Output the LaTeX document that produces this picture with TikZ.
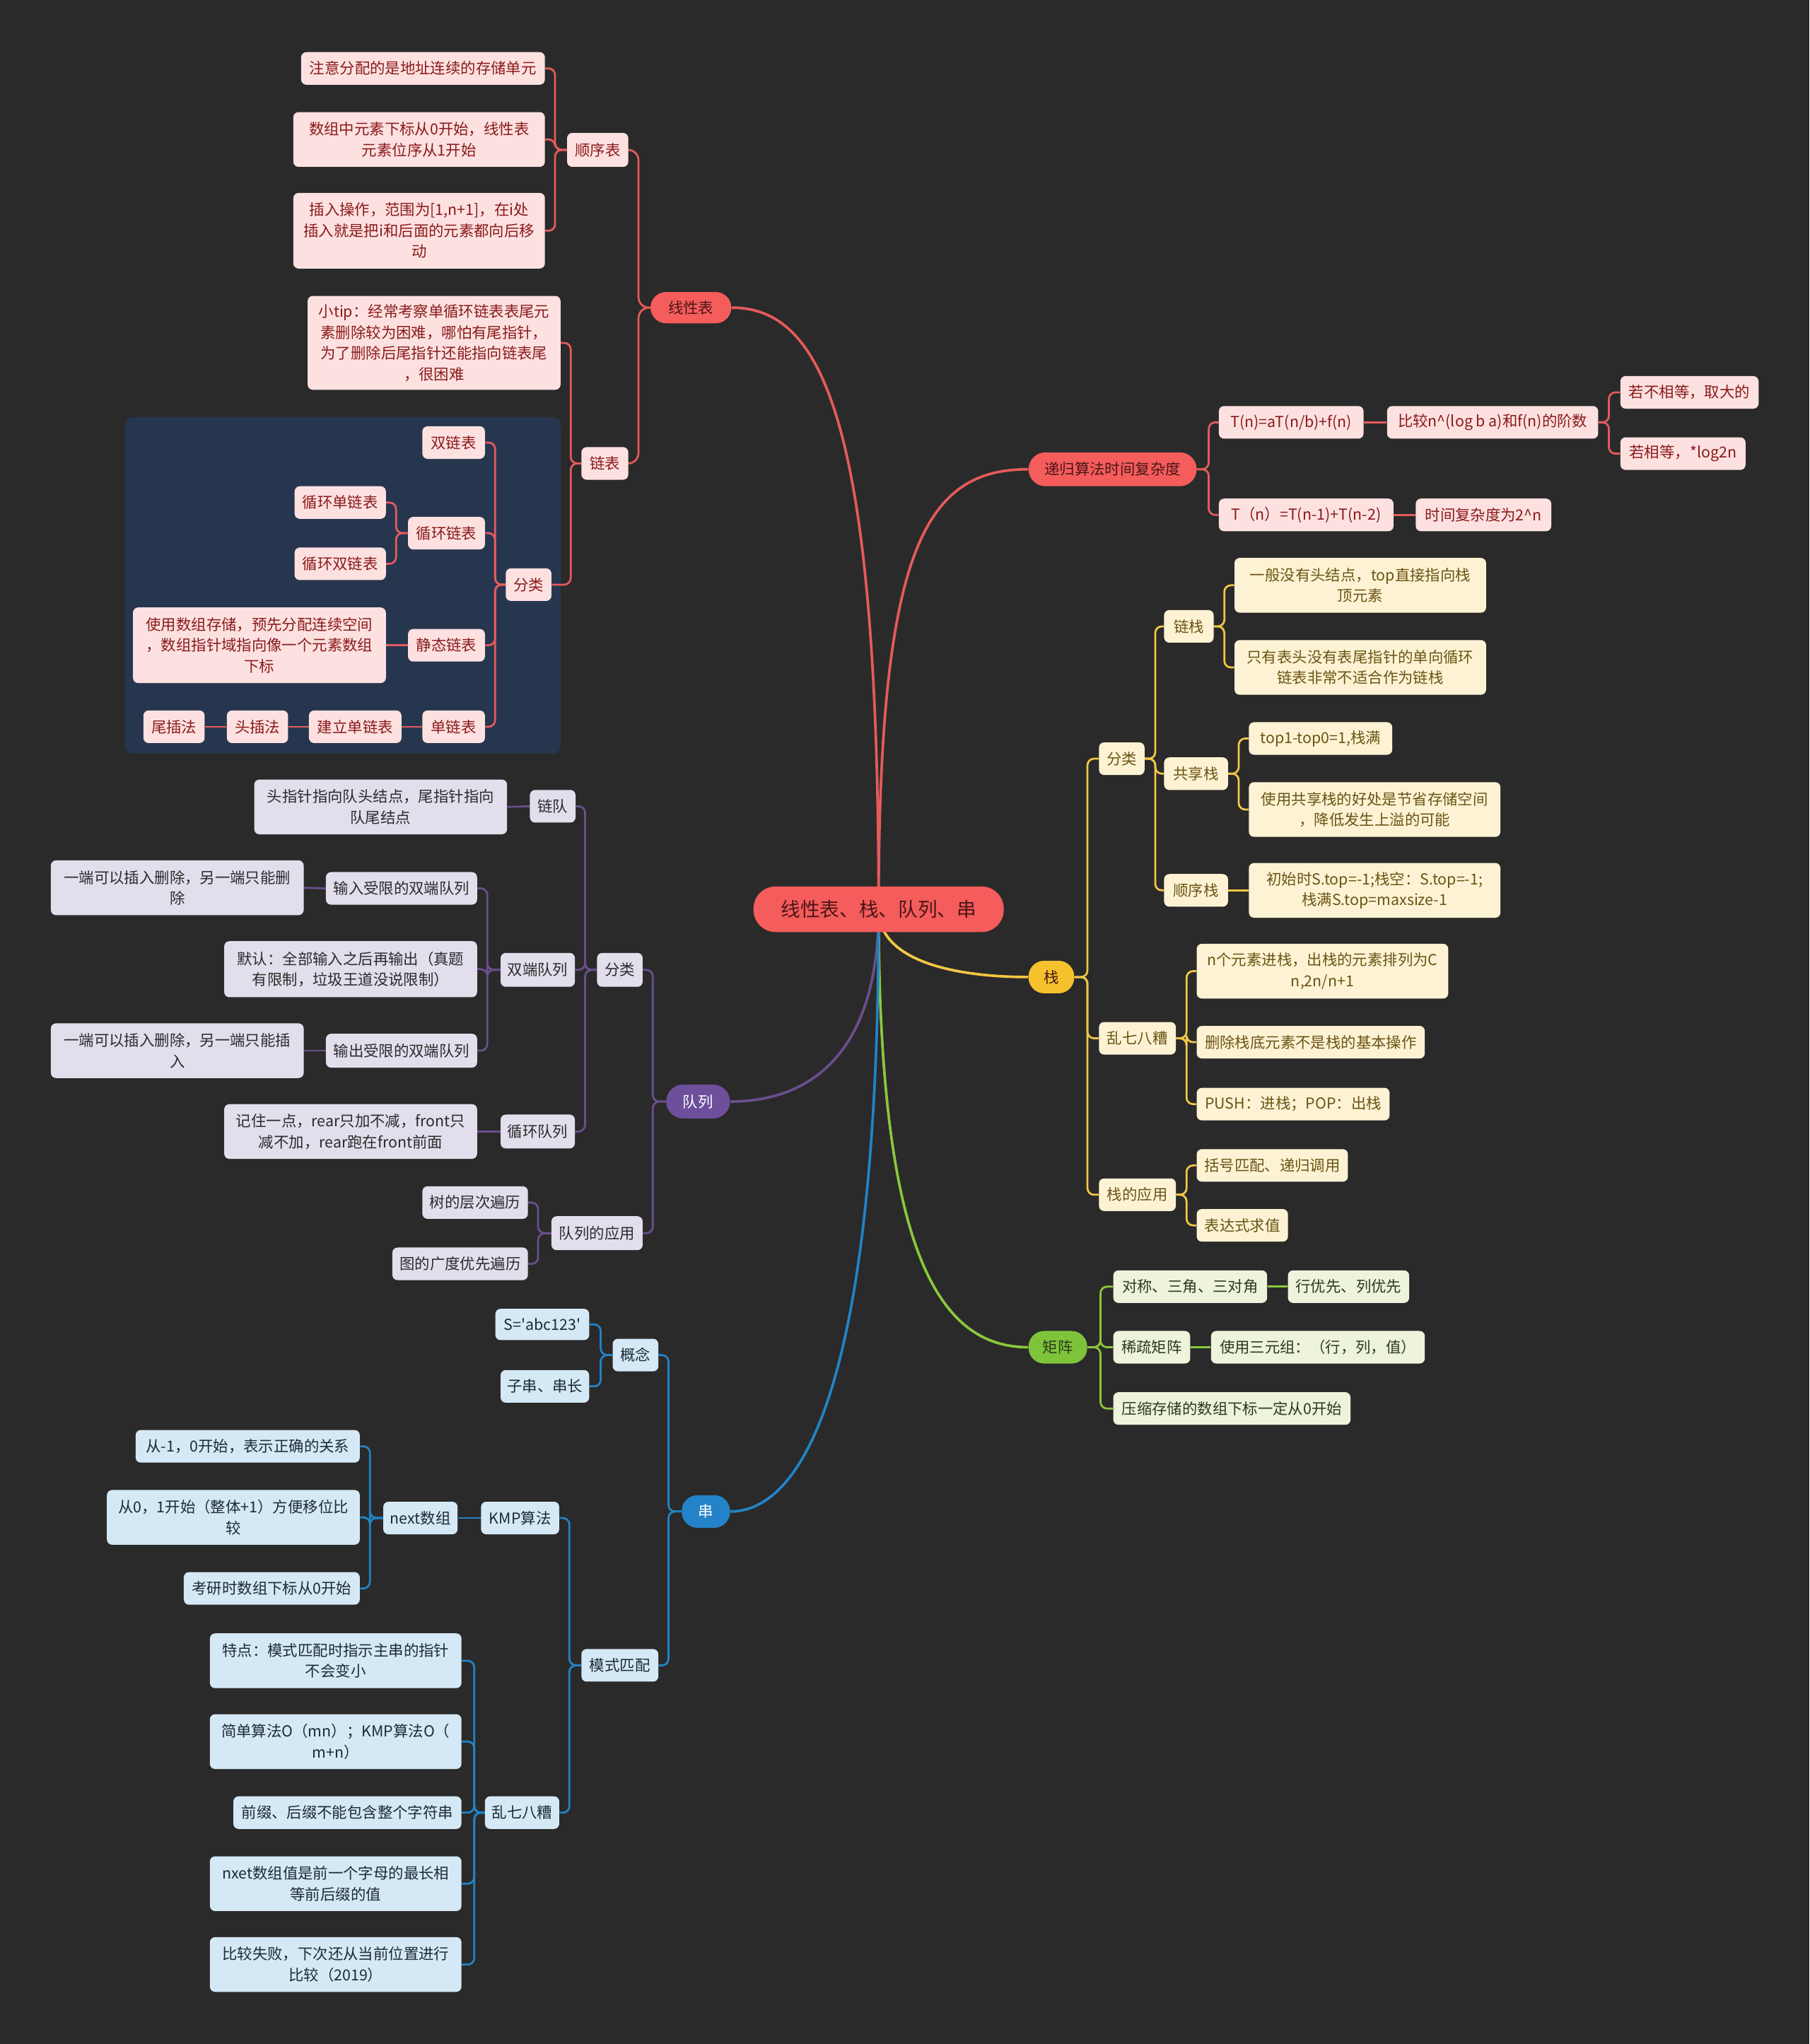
\documentclass[tikz,border=0pt]{standalone}
\usepackage{fontspec}
\setmainfont{Noto Sans CJK SC}
\pgfdeclarelayer{bgl}
\pgfsetlayers{bgl,main}
\definecolor{bgc}{HTML}{2A2A2A}
\definecolor{navy}{HTML}{27364F}
\definecolor{redL}{HTML}{E55B5B}
\definecolor{redN}{HTML}{F55C5C}
\definecolor{redF}{HTML}{FDE1E1}
\definecolor{redT}{HTML}{8B1A1A}
\definecolor{rootT}{HTML}{4A1616}
\definecolor{purL}{HTML}{6A4F8E}
\definecolor{purN}{HTML}{6D4F9C}
\definecolor{purF}{HTML}{E2DEEB}
\definecolor{purT}{HTML}{2B2B2B}
\definecolor{bluL}{HTML}{2184C6}
\definecolor{bluN}{HTML}{2483C8}
\definecolor{bluF}{HTML}{D5E8F5}
\definecolor{bluT}{HTML}{1C2B38}
\definecolor{yelL}{HTML}{F2C744}
\definecolor{yelN}{HTML}{F5C22E}
\definecolor{yelF}{HTML}{FDF3D4}
\definecolor{yelT}{HTML}{6B5414}
\definecolor{grnL}{HTML}{8AC83C}
\definecolor{grnN}{HTML}{7EC43A}
\definecolor{grnF}{HTML}{EEF3DC}
\definecolor{grnT}{HTML}{2D3A1A}
\newcommand\fs{\fontsize{11.6pt}{16pt}\selectfont}
\newcommand\cL[4]{\draw[#1] (#2.west) -- ++(-#3,0) |- (#4.east);}
\newcommand\cR[4]{\draw[#1] (#2.east) -- ++(#3,0) |- (#4.west);}
\tikzset{
  base/.style={rounded corners=4pt, inner xsep=4pt, inner ysep=3pt, minimum height=25pt, align=center, font=\fs},
  rleaf/.style={base, fill=redF, text=redT},
  pleaf/.style={base, fill=purF, text=purT},
  bleaf/.style={base, fill=bluF, text=bluT},
  yleaf/.style={base, fill=yelF, text=yelT},
  gleaf/.style={base, fill=grnF, text=grnT},
  pill/.style={base, rounded corners=12pt},
  con/.style={line width=1.5pt, rounded corners=5pt},
  cr/.style={con, draw=redL},
  cp/.style={con, draw=purL},
  cb/.style={con, draw=bluL},
  cy/.style={con, draw=yelL},
  cg/.style={con, draw=grnL},
  rootc/.style={line width=2pt},
}
\begin{document}
\begin{tikzpicture}[x=1pt,y=-1pt]
\useasboundingbox (0,0) rectangle (1388,1568);
\begin{pgfonlayer}{bgl}
\fill[bgc] (0,0) rectangle (1388,1568);
\fill[navy, rounded corners=6pt] (96,320) rectangle (430,578);
\end{pgfonlayer}

% root
\node[base, fill=redN, text=rootT, rounded corners=17pt, minimum width=192pt, minimum height=35pt, font=\fontsize{15pt}{18pt}\selectfont] (root) at (674,697.5) {线性表、栈、队列、串};

% ===== red: 线性表 =====
\node[pill, fill=redN, text=rootT, minimum width=62pt, minimum height=24pt] (L) at (530,236) {线性表};
\node[rleaf, minimum width=187pt] (r1) at (324.5,52.5) {注意分配的是地址连续的存储单元};
\node[rleaf, minimum width=193pt, minimum height=42pt] (r2) at (321.5,107) {数组中元素下标从0开始，线性表\\元素位序从1开始};
\node[rleaf, minimum width=193pt, minimum height=58pt] (r3) at (321.5,177) {插入操作，范围为[1,n+1]，在i处\\插入就是把i和后面的元素都向后移\\动};
\node[rleaf, minimum width=47pt, minimum height=26pt] (r4) at (458.5,115) {顺序表};
\node[rleaf, minimum width=194pt, minimum height=72pt] (r5) at (333,263) {小tip：经常考察单循环链表表尾元\\素删除较为困难，哪怕有尾指针，\\为了删除后尾指针还能指向链表尾\\，很困难};
\node[rleaf, minimum width=36pt] (r6) at (464,355.5) {链表};
\node[rleaf, minimum width=35pt] (r7) at (405.5,448.5) {分类};
\node[rleaf, minimum width=48pt] (r8) at (348,339.5) {双链表};
\node[rleaf, minimum width=59pt] (r9) at (342.5,409) {循环链表};
\node[rleaf, minimum width=70pt] (r10) at (261,385.5) {循环单链表};
\node[rleaf, minimum width=70pt] (r11) at (261,432.5) {循环双链表};
\node[rleaf, minimum width=194pt, minimum height=58pt] (r12) at (199,495) {使用数组存储，预先分配连续空间\\，数组指针域指向像一个元素数组\\下标};
\node[rleaf, minimum width=59pt] (r13) at (342.5,495) {静态链表};
\node[rleaf, minimum width=48pt] (r14) at (348,557.5) {单链表};
\node[rleaf, minimum width=71pt] (r15) at (272.5,557.5) {建立单链表};
\node[rleaf, minimum width=47pt] (r16) at (197.5,557.5) {头插法};
\node[rleaf, minimum width=47pt] (r17) at (133.5,557.5) {尾插法};

% ===== red: 递归 =====
\node[pill, fill=redN, text=rootT, minimum width=129pt, minimum height=26pt, rounded corners=13pt] (R) at (853.5,360) {递归算法时间复杂度};
\node[rleaf, minimum width=111pt] (Ra) at (990.5,324) {T(n)=aT(n/b)+f(n)};
\node[rleaf, minimum width=162pt] (Rb) at (1145,324) {比较n\textasciicircum(log b a)和f(n)的阶数};
\node[rleaf, minimum width=106pt] (Rc) at (1296,301) {若不相等，取大的};
\node[rleaf, minimum width=96pt] (Rd) at (1291,348) {若相等，*log2n};
\node[rleaf, minimum width=134pt] (Re) at (1002,395) {T（n）=T(n-1)+T(n-2)};
\node[rleaf, minimum width=104pt] (Rf) at (1138,395) {时间复杂度为2\textasciicircum n};

% ===== yellow: 栈 =====
\node[pill, fill=yelN, text=rootT, minimum width=35pt] (S) at (806.5,749.5) {栈};
\node[yleaf, minimum width=35pt] (y1) at (860.5,582) {分类};
\node[yleaf, minimum width=38pt] (y2) at (912,480.5) {链栈};
\node[yleaf, minimum width=193pt, minimum height=42pt] (y3) at (1043.5,449) {一般没有头结点，top直接指向栈\\顶元素};
\node[yleaf, minimum width=193pt, minimum height=42pt] (y4) at (1043.5,512) {只有表头没有表尾指针的单向循环\\链表非常不适合作为链栈};
\node[yleaf, minimum width=49pt] (y5) at (917.5,593.5) {共享栈};
\node[yleaf, minimum width=110pt] (y6) at (1013,566.5) {top1-top0=1,栈满};
\node[yleaf, minimum width=193pt, minimum height=42pt] (y7) at (1054.5,621) {使用共享栈的好处是节省存储空间\\，降低发生上溢的可能};
\node[yleaf, minimum width=49pt] (y8) at (917.5,683) {顺序栈};
\node[yleaf, minimum width=193pt, minimum height=42pt] (y9) at (1054.5,683) {初始时S.top=-1;栈空：S.top=-1;\\栈满S.top=maxsize-1};
\node[yleaf, minimum width=59pt] (y10) at (872.5,796.5) {乱七八糟};
\node[yleaf, minimum width=193pt, minimum height=42pt] (y11) at (1014.5,745) {n个元素进栈，出栈的元素排列为C\\n,2n/n+1};
\node[yleaf, minimum width=175pt] (y12) at (1005.5,799.5) {删除栈底元素不是栈的基本操作};
\node[yleaf, minimum width=148pt] (y13) at (992,847) {PUSH：进栈；POP：出栈};
\node[yleaf, minimum width=59pt] (y14) at (872.5,916.5) {栈的应用};
\node[yleaf, minimum width=116pt] (y15) at (976,894) {括号匹配、递归调用};
\node[yleaf, minimum width=70pt] (y16) at (953,940) {表达式求值};

% ===== green: 矩阵 =====
\node[pill, fill=grnN, text=grnT, minimum width=45pt] (M) at (811.5,1033.5) {矩阵};
\node[gleaf, minimum width=118pt] (g1) at (913,987) {对称、三角、三对角};
\node[gleaf, minimum width=93pt] (g2) at (1034.5,987) {行优先、列优先};
\node[gleaf, minimum width=59pt] (g3) at (883.5,1033.5) {稀疏矩阵};
\node[gleaf, minimum width=164pt] (g4) at (1011,1033.5) {使用三元组：（行，列，值）};
\node[gleaf, minimum width=182pt] (g5) at (945,1080.5) {压缩存储的数组下标一定从0开始};

% ===== purple: 队列 =====
\node[pill, fill=purN, text=white, minimum width=49pt, minimum height=26pt, rounded corners=13pt] (Q) at (535.5,845) {队列};
\node[pleaf, minimum width=35pt, minimum height=26pt] (p1) at (475.5,744) {分类};
\node[pleaf, minimum width=35pt] (p2) at (424,618.5) {链队};
\node[pleaf, minimum width=194pt, minimum height=42pt] (p3) at (292,619) {头指针指向队头结点，尾指针指向\\队尾结点};
\node[pleaf, minimum width=57pt, minimum height=26pt] (p4) at (412.5,744) {双端队列};
\node[pleaf, minimum width=116pt] (p5) at (308,681.5) {输入受限的双端队列};
\node[pleaf, minimum width=194pt, minimum height=42pt] (p6) at (136,681) {一端可以插入删除，另一端只能删\\除};
\node[pleaf, minimum width=194pt, minimum height=43pt] (p7) at (269,743.5) {默认：全部输入之后再输出（真题\\有限制，垃圾王道没说限制）};
\node[pleaf, minimum width=116pt, minimum height=26pt] (p8) at (308,806) {输出受限的双端队列};
\node[pleaf, minimum width=194pt, minimum height=42pt] (p9) at (136,806) {一端可以插入删除，另一端只能插\\入};
\node[pleaf, minimum width=57pt, minimum height=26pt] (p10) at (412.5,868) {循环队列};
\node[pleaf, minimum width=194pt, minimum height=42pt] (p11) at (269,868) {记住一点，rear只加不减，front只\\减不加，rear跑在front前面};
\node[pleaf, minimum width=70pt, minimum height=26pt] (p12) at (458,946) {队列的应用};
\node[pleaf, minimum width=81pt] (p13) at (364.5,922.5) {树的层次遍历};
\node[pleaf, minimum width=104pt] (p14) at (353,969.5) {图的广度优先遍历};

% ===== blue: 串 =====
\node[pill, fill=bluN, text=white, minimum width=37pt] (C) at (541.5,1159.5) {串};
\node[bleaf, minimum width=35pt] (b1) at (487.5,1039.5) {概念};
\node[bleaf, minimum width=72pt, minimum height=24pt] (b2) at (416,1016) {S=\textquotesingle abc123\textquotesingle};
\node[bleaf, minimum width=68pt] (b3) at (418,1063.5) {子串、串长};
\node[bleaf, minimum width=59pt] (b4) at (475.5,1277.5) {模式匹配};
\node[bleaf, minimum width=60pt] (b5) at (399,1164.5) {KMP算法};
\node[bleaf, minimum width=57pt] (b6) at (322.5,1164.5) {next数组};
\node[bleaf, minimum width=172pt] (b7) at (190,1109.5) {从-1，0开始，表示正确的关系};
\node[bleaf, minimum width=194pt, minimum height=42pt] (b8) at (179,1164) {从0，1开始（整体+1）方便移位比\\较};
\node[bleaf, minimum width=135pt] (b9) at (208.5,1218.5) {考研时数组下标从0开始};
\node[bleaf, minimum width=57pt] (b10) at (400.5,1390.5) {乱七八糟};
\node[bleaf, minimum width=193pt, minimum height=42pt] (b11) at (257.5,1274) {特点：模式匹配时指示主串的指针\\不会变小};
\node[bleaf, minimum width=193pt, minimum height=42pt] (b12) at (257.5,1336) {简单算法O（mn）；KMP算法O（\\m+n）};
\node[bleaf, minimum width=175pt] (b13) at (266.5,1390.5) {前缀、后缀不能包含整个字符串};
\node[bleaf, minimum width=193pt, minimum height=42pt] (b14) at (257.5,1445) {nxet数组值是前一个字母的最长相\\等前后缀的值};
\node[bleaf, minimum width=193pt, minimum height=42pt] (b15) at (257.5,1507) {比较失败，下次还从当前位置进行\\比较（2019）};

\begin{pgfonlayer}{bgl}
% root curves
\draw[rootc, redL] (root.center) .. controls (674,320) and (630,236) .. (L.east);
\draw[rootc, redL] (root.center) .. controls (674,420) and (710,360) .. (R.west);
\draw[rootc, yelL] (root.center) .. controls (674,740) and (740,749.5) .. (S.west);
\draw[rootc, grnL] (root.center) .. controls (674,960) and (720,1033.5) .. (M.west);
\draw[rootc, purL] (root.center) .. controls (674,810) and (620,845) .. (Q.east);
\draw[rootc, bluL] (root.center) .. controls (674,1080) and (610,1159.5) .. (C.east);

% red 线性表
\cL{cr, rounded corners=8pt}{L}{9}{r4}
\cL{cr, rounded corners=8pt}{L}{9}{r6}
\cL{cr}{r4}{9}{r1}
\cL{cr}{r4}{9}{r2}
\cL{cr}{r4}{9}{r3}
\cL{cr}{r6}{8}{r5}
\cL{cr}{r6}{8}{r7}
\cL{cr}{r7}{8}{r8}
\cL{cr}{r7}{8}{r9}
\cL{cr}{r7}{8}{r13}
\cL{cr}{r7}{8}{r14}
\cL{cr}{r9}{9}{r10}
\cL{cr}{r9}{9}{r11}
\draw[cr] (r13.west) -- (r12.east);
\draw[cr] (r14.west) -- (r15.east);
\draw[cr] (r15.west) -- (r16.east);
\draw[cr] (r16.west) -- (r17.east);

% red 递归
\cR{cr}{R}{9}{Ra}
\cR{cr}{R}{9}{Re}
\draw[cr] (Ra.east) -- (Rb.west);
\cR{cr}{Rb}{8}{Rc}
\cR{cr}{Rb}{8}{Rd}
\draw[cr] (Re.east) -- (Rf.west);

% yellow 栈
\cR{cy}{S}{10}{y1}
\cR{cy}{S}{10}{y10}
\cR{cy}{S}{10}{y14}
\cR{cy}{y1}{8}{y2}
\cR{cy}{y1}{8}{y5}
\cR{cy}{y1}{8}{y8}
\cR{cy}{y2}{8}{y3}
\cR{cy}{y2}{8}{y4}
\cR{cy}{y5}{8}{y6}
\cR{cy}{y5}{8}{y7}
\draw[cy] (y8.east) -- (y9.west);
\cR{cy}{y10}{8}{y11}
\cR{cy}{y10}{8}{y12}
\cR{cy}{y10}{8}{y13}
\cR{cy}{y14}{8}{y15}
\cR{cy}{y14}{8}{y16}

% green 矩阵
\cR{cg}{M}{10}{g1}
\cR{cg}{M}{10}{g3}
\cR{cg}{M}{10}{g5}
\draw[cg] (g1.east) -- (g2.west);
\draw[cg] (g3.east) -- (g4.west);

% purple 队列
\cL{cp}{Q}{10}{p1}
\cL{cp}{Q}{10}{p12}
\cL{cp}{p1}{9}{p2}
\cL{cp}{p1}{9}{p4}
\cL{cp}{p1}{9}{p10}
\draw[cp] (p2.west) -- (p3.east);
\cL{cp}{p4}{10}{p5}
\cL{cp}{p4}{10}{p7}
\cL{cp}{p4}{10}{p8}
\draw[cp] (p5.west) -- (p6.east);
\draw[cp] (p8.west) -- (p9.east);
\draw[cp] (p10.west) -- (p11.east);
\cL{cp}{p12}{10}{p13}
\cL{cp}{p12}{10}{p14}

% blue 串
\cL{cb}{C}{10}{b1}
\cL{cb}{C}{10}{b4}
\cL{cb}{b1}{9}{b2}
\cL{cb}{b1}{9}{b3}
\cL{cb}{b4}{9}{b5}
\cL{cb}{b4}{9}{b10}
\draw[cb] (b5.west) -- (b6.east);
\cL{cb}{b6}{10}{b7}
\cL{cb}{b6}{10}{b8}
\cL{cb}{b6}{10}{b9}
\cL{cb}{b10}{8}{b11}
\cL{cb}{b10}{8}{b12}
\cL{cb}{b10}{8}{b13}
\cL{cb}{b10}{8}{b14}
\cL{cb}{b10}{8}{b15}
\end{pgfonlayer}
\end{tikzpicture}
\end{document}
